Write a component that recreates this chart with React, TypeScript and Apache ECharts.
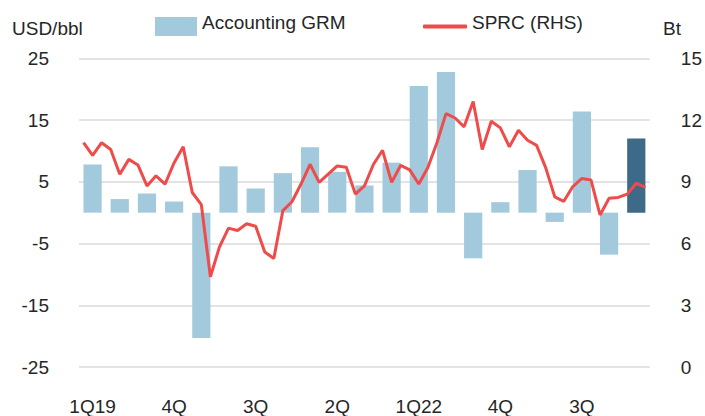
import React, { useEffect, useRef } from "react";
import * as echarts from "echarts";

const quarters = [
  "1Q19", "2Q19", "3Q19", "4Q19",
  "1Q20", "2Q20", "3Q20", "4Q20",
  "1Q21", "2Q21", "3Q21", "4Q21",
  "1Q22", "2Q22", "3Q22", "4Q22",
  "1Q23", "2Q23", "3Q23", "4Q23",
  "1Q24",
];
const tickLabels = [
  "1Q19", "", "", "4Q", "", "", "3Q", "", "", "2Q", "", "",
  "1Q22", "", "", "4Q", "", "", "3Q", "", "",
];
const grmValues = [
  7.8, 2.2, 3.1, 1.8,
  -20.3, 7.5, 3.9, 6.4,
  10.6, 6.6, 4.4, 8.1,
  20.5, 22.8, -7.4, 1.7,
  6.9, -1.5, 16.4, -6.8,
  12.0,
];
const sprcValues = [
  10.9, 10.28, 10.9, 10.57, 9.37, 10.09, 9.82, 8.8, 9.29, 8.89, 9.93, 10.7,
  8.48, 7.89, 4.38, 5.83, 6.75, 6.63, 6.96, 6.84, 5.59, 5.27, 7.6, 8.03,
  8.89, 9.85, 8.97, 9.37, 9.77, 9.71, 8.4, 8.8, 9.85, 10.53, 8.97, 9.8,
  9.58, 8.89, 9.69, 10.9, 12.31, 12.1, 11.67, 12.9, 10.57, 11.94, 11.62, 10.7,
  11.5, 11.02, 10.77, 9.69, 8.27, 8.05, 8.77, 9.16, 9.09, 7.39, 8.2, 8.24,
  8.4, 8.93, 8.73,
];
const monthNames = ["Jan", "Feb", "Mar", "Apr", "May", "Jun", "Jul", "Aug", "Sep", "Oct", "Nov", "Dec"];
const months: string[] = [];
for (let y = 19; y <= 24; y++) {
  for (let m = 0; m < 12; m++) {
    if (months.length < sprcValues.length) months.push(monthNames[m] + "-" + y);
  }
}

const FONT = "'Liberation Sans', Arial, sans-serif";
const TXT = "#262626";
const LIGHT = "#A3C9DD";
const DARK = "#3E6A89";
const RED = "#F04B4B";

const legendText = {
  fontSize: 19,
  color: TXT,
  fontFamily: FONT,
  rich: { a: { fontSize: 19, color: TXT, fontFamily: FONT, padding: [0, 0, 9, 0] } },
};

export default function App() {
  const ref = useRef<HTMLDivElement>(null);
  useEffect(() => {
    if (!ref.current) return;
    const chart = echarts.init(ref.current, undefined, { renderer: "svg" });
    chart.setOption({
      animation: false,
      textStyle: { fontFamily: FONT },
      grid: { left: 79, right: 53, top: 58.3, bottom: 46.8 },
      legend: [
        {
          data: [{ name: "Accounting GRM", icon: "rect" }],
          left: 155,
          top: 12.5,
          padding: 0,
          itemWidth: 42,
          itemHeight: 19,
          itemGap: 5,
          formatter: "{a|{name}}",
          textStyle: legendText,
        },
        {
          data: [{ name: "SPRC (RHS)", icon: "roundRect" }],
          left: 423,
          top: 12.5,
          padding: 0,
          itemWidth: 44,
          itemHeight: 4,
          itemGap: 5,
          formatter: "{a|{name}}",
          textStyle: legendText,
        },
      ],
      graphic: [
        { type: "text", left: 12, top: 19, style: { text: "USD/bbl", fontSize: 19, fill: TXT, fontFamily: FONT } },
        { type: "text", left: 663, top: 19, style: { text: "Bt", fontSize: 19, fill: TXT, fontFamily: FONT } },
      ],
      xAxis: [
        {
          type: "category",
          data: quarters,
          axisLine: { show: false },
          axisTick: { show: false },
          axisLabel: {
            interval: 0,
            margin: 30,
            fontSize: 19,
            color: TXT,
            fontFamily: FONT,
            formatter: (_v: string, i: number) => tickLabels[i],
          },
        },
        {
          type: "category",
          data: months,
          show: false,
          boundaryGap: true,
        },
      ],
      yAxis: [
        {
          type: "value",
          min: -25,
          max: 25,
          interval: 10,
          axisLine: { show: false },
          axisTick: { show: false },
          splitLine: { lineStyle: { color: "#DADADA", width: 1.5 } },
          axisLabel: { margin: 30, fontSize: 19, color: TXT, fontFamily: FONT },
        },
        {
          type: "value",
          min: 0,
          max: 15,
          interval: 3,
          position: "right",
          axisLine: { show: false },
          axisTick: { show: false },
          splitLine: { show: false },
          axisLabel: { margin: 31, fontSize: 19, color: TXT, fontFamily: FONT },
        },
      ],
      series: [
        {
          name: "Accounting GRM",
          type: "bar",
          xAxisIndex: 0,
          yAxisIndex: 0,
          barWidth: "67%",
          itemStyle: { color: LIGHT },
          data: grmValues.map((v, i) =>
            i === grmValues.length - 1 ? { value: v, itemStyle: { color: DARK } } : v
          ),
        },
        {
          name: "SPRC (RHS)",
          type: "line",
          xAxisIndex: 1,
          yAxisIndex: 1,
          symbol: "none",
          lineStyle: { color: RED, width: 3 },
          itemStyle: { color: RED },
          data: sprcValues,
        },
      ],
    });
    return () => chart.dispose();
  }, []);
  return <div ref={ref} style={{ width: 705, height: 416, position: "absolute", left: 0, top: 0 }} />;
}
